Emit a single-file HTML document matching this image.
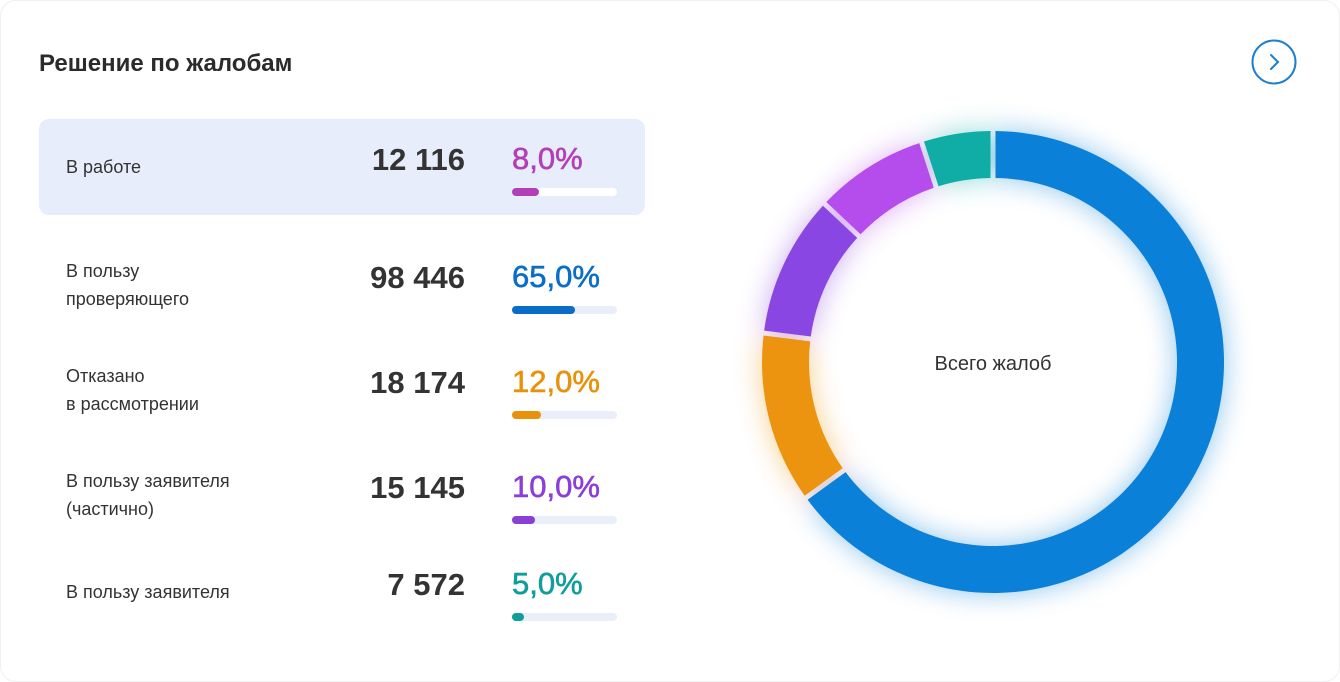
<!DOCTYPE html>
<html><head><meta charset="utf-8"><style>
body{margin:0;width:1340px;height:682px;background:#fff;font-family:"Liberation Sans",sans-serif;overflow:hidden;position:relative}
.card{position:absolute;left:0;top:0;width:1338px;height:680px;border:1px solid #eef0f4;border-radius:16px;background:#fff}
.title{position:absolute;left:39px;top:50px;font-size:24px;font-weight:bold;color:#2b2b2b}
.row{position:absolute;left:39px;width:606px;height:96px}
.row.hl{background:#e8edfb;border-radius:10px}
.lab{position:absolute;left:27px;font-size:18px;color:#333;line-height:28px}
.num{position:absolute;right:180px;font-size:31px;font-weight:bold;color:#333}
.pct{position:absolute;left:473px;font-size:31px;-webkit-text-stroke:0.6px currentColor}
.bar{position:absolute;left:473px;width:105px;height:8px;border-radius:4px;background:#e9eef8}
.row.hl .bar{background:#fff}
.fill{height:8px;border-radius:4px}
</style></head><body>
<div class="card"></div>
<div class="title">Решение по жалобам</div>
<svg style="position:absolute;left:1250px;top:38px" width="48" height="48"><circle cx="24" cy="24" r="21.5" fill="none" stroke="#1a7fd0" stroke-width="2"/><path d="M21 17 L28 24 L21 31" fill="none" stroke="#1a7fd0" stroke-width="2" stroke-linecap="round"/></svg>
<div id="rows"></div>
<svg id="donut" style="position:absolute;left:0;top:0" width="1340" height="682">
<defs><filter id="glow" x="-30%" y="-30%" width="160%" height="160%"><feGaussianBlur stdDeviation="14"/></filter></defs>
<g id="glowg" filter="url(#glow)" opacity="0.45"></g><g id="segs"></g>
<text x="993" y="370" text-anchor="middle" font-size="20" fill="#333" font-family="Liberation Sans, sans-serif">Всего жалоб</text>
</svg>
<script>
const labels=[["В работе"],["В пользу","проверяющего"],["Отказано","в рассмотрении"],["В пользу заявителя","(частично)"],["В пользу заявителя"]];
const counts=["12 116","98 446","18 174","15 145","7 572"];
const percents=[8,65,12,10,5];
const pctColors=["#b23fb8","#0a6ec8","#e8920b","#8a3fd6","#0f9e9a"];
const barFill=[0.26,0.6,0.28,0.22,0.11];
const donutOrder=[1,2,3,0,4];
const segColors=["#b54cec","#0b80d8","#ec9410","#8a46e2","#10aca6"];
const rowTops=[119,237,342,447,544];
const rows=document.getElementById('rows');
labels.forEach((l,i)=>{
 const r=document.createElement('div');r.className='row'+(i==0?' hl':'');r.style.top=rowTops[i]+'px';
 
 
 const c=48;const lt=c-l.length*14;
 r.innerHTML=`<div class="lab" style="top:${lt}px">${l.join('<br>')}</div>
 <div class="num" style="top:${c-25}px">${counts[i]}</div>
 <div class="pct" style="top:${c-26}px;color:${pctColors[i]}">${percents[i].toFixed(1).replace('.',',')}%</div>
 <div class="bar" style="top:${c+21}px"><div class="fill" style="width:${barFill[i]*105}px;background:${pctColors[i]}"></div></div>`;
 rows.appendChild(r);
});
const cx=993,cy=362,R=231,r0=184;
function pt(a,rad){return [cx+rad*Math.sin(a),cy-rad*Math.cos(a)];}
let acc=0;const tot=percents.reduce((a,b)=>a+b,0);
const segs=document.getElementById('segs'),gg=document.getElementById('glowg');
donutOrder.forEach(k=>{
 const a0=acc/tot*2*Math.PI;acc+=percents[k];const a1=acc/tot*2*Math.PI;
 const go=2.5/R, gi=2.5/r0;
 const lg=a1-a0>Math.PI?1:0;
 const p1=pt(a0+go,R),p2=pt(a1-go,R),p3=pt(a1-gi,r0),p4=pt(a0+gi,r0);
 const d=`M${p1} A${R} ${R} 0 ${lg} 1 ${p2} L${p3} A${r0} ${r0} 0 ${lg} 0 ${p4}Z`;
 [gg,segs].forEach((g,j)=>{
  const p=document.createElementNS('http://www.w3.org/2000/svg','path');
  p.setAttribute('d',d);p.setAttribute('fill',segColors[k]);
  
  
  g.appendChild(p);
 });
});
</script>
</body></html>
